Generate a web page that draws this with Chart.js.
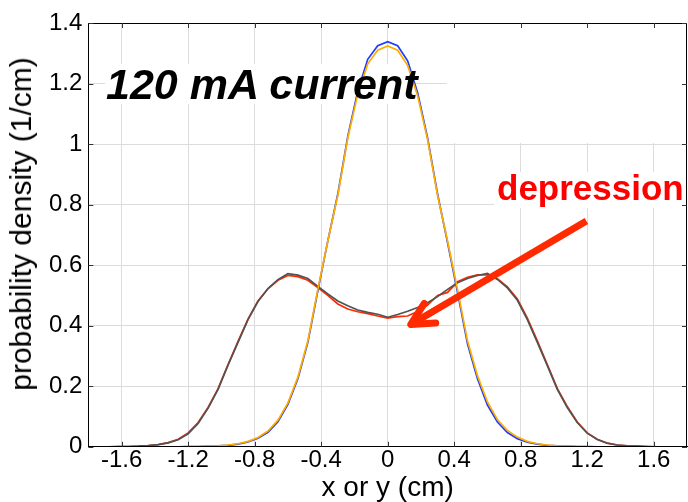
<!DOCTYPE html>
<html>
<head>
<meta charset="utf-8">
<script src="https://cdn.jsdelivr.net/npm/chart.js@4.4.1/dist/chart.umd.min.js"></script>
<style>
    body { margin: 0; background: #fff; }
    #wrap { position: relative; width: 688px; height: 502px; }
    .note { position: absolute; white-space: nowrap; font-family: "Liberation Sans", Arial, sans-serif; line-height: 1; }
    #current { left: 106px; top: 63px; font-size: 43px; font-weight: bold; font-style: italic; color: #000; }
    #depression { left: 497px; top: 170px; font-size: 35px; font-weight: bold; color: #ff0000; }
    #ytitle { left: 21px; top: 224px; font-size: 30px; color: #000; transform: translate(-50%, -50%) rotate(-90deg); }
</style>
</head>
<body>
<div id="wrap">
    <canvas id="chart" width="688" height="502"></canvas>
    <div class="note" id="ytitle">probability density (1/cm)</div>
    <div class="note" id="current">120 mA current</div>
    <div class="note" id="depression">depression</div>
</div>
<script>
// sample positions (cm)
const xs = [-1.68, -1.62, -1.56, -1.50, -1.44, -1.38, -1.32, -1.26, -1.20, -1.14, -1.08, -1.02, -0.96, -0.90, -0.84,
    -0.78, -0.72, -0.66, -0.60, -0.54, -0.48, -0.42, -0.36, -0.30, -0.24, -0.18, -0.12, -0.06, 0,
    0.06, 0.12, 0.18, 0.24, 0.30, 0.36, 0.42, 0.48, 0.54, 0.60, 0.66, 0.72, 0.78, 0.84, 0.90,
    0.96, 1.02, 1.08, 1.14, 1.20, 1.26, 1.32, 1.38, 1.44, 1.50, 1.56, 1.62, 1.68];

// narrow profile
const blueSeries = [0, 0, 0, 0, 0, 0, 0, 0, 0.001,
    0.001, 0.002, 0.003, 0.005, 0.009, 0.016, 0.028, 0.048, 0.083, 0.14, 0.225, 0.345, 0.515, 0.68, 0.835, 1.025, 1.175, 1.28, 1.325,
    1.338,
    1.325, 1.275, 1.17, 1.02, 0.835, 0.675, 0.51, 0.34, 0.225, 0.138, 0.082, 0.047, 0.027, 0.015, 0.009, 0.005, 0.003, 0.002, 0.001,
    0.001, 0, 0, 0, 0, 0, 0, 0, 0];
const orangeSeries = [0, 0, 0, 0, 0, 0, 0, 0, 0.001,
    0.001, 0.002, 0.003, 0.006, 0.010, 0.018, 0.031, 0.052, 0.088, 0.145, 0.23, 0.35, 0.52, 0.68, 0.83, 1.02, 1.165, 1.265, 1.31,
    1.324,
    1.31, 1.26, 1.16, 1.015, 0.83, 0.68, 0.52, 0.35, 0.235, 0.148, 0.09, 0.054, 0.032, 0.018, 0.010, 0.006, 0.003, 0.002, 0.001,
    0.001, 0, 0, 0, 0, 0, 0, 0, 0];

// hollow profile
const redSeries = [0, 0.001, 0.001, 0.002, 0.004, 0.007, 0.014, 0.025, 0.046,
    0.08, 0.13, 0.192, 0.272, 0.348, 0.422, 0.482, 0.522, 0.55, 0.566, 0.562, 0.55, 0.526, 0.5, 0.472, 0.455, 0.446, 0.44, 0.432,
    0.425,
    0.43, 0.432, 0.447, 0.468, 0.5, 0.51, 0.545, 0.56, 0.568, 0.568, 0.555, 0.528, 0.488, 0.425, 0.35, 0.272, 0.193, 0.133, 0.082,
    0.046, 0.025, 0.012, 0.006, 0.003, 0.002, 0.001, 0, 0];
const graySeries = [0, 0.001, 0.001, 0.002, 0.004, 0.007, 0.013, 0.023, 0.043,
    0.077, 0.128, 0.19, 0.27, 0.345, 0.42, 0.48, 0.523, 0.552, 0.572, 0.567, 0.556, 0.53, 0.505, 0.482, 0.466, 0.452, 0.444, 0.438,
    0.428,
    0.437, 0.448, 0.46, 0.476, 0.496, 0.52, 0.542, 0.556, 0.566, 0.573, 0.553, 0.525, 0.484, 0.42, 0.345, 0.268, 0.19, 0.13, 0.08,
    0.045, 0.024, 0.012, 0.006, 0.003, 0.002, 0.001, 0, 0];

const xTickValues = [-1.6, -1.2, -0.8, -0.4, 0, 0.4, 0.8, 1.2, 1.6];
const yTickValues = [0, 0.2, 0.4, 0.6, 0.8, 1, 1.2, 1.4];

// arrow from label down to the dip, in data units
const arrowFrom = [1.195, 0.746];
const arrowTo = [0.139, 0.404];

const FONT = "'Liberation Sans', Arial, sans-serif";

function series(label, values, color) {
    return {
        label: label,
        data: xs.map((x, i) => ({x: x, y: values[i]})),
        borderColor: color,
        borderWidth: 1.7,
        pointRadius: 0,
        tension: 0,
        fill: false,
    };
}

const framePlugin = {
    id: "frame",
    beforeDatasetsDraw(chart) {
        // white boxes behind the annotations hide the grid
        const ctx = chart.ctx;
        const a = chart.chartArea;
        ctx.save();
        ctx.fillStyle = "#fff";
        ctx.fillRect(105, 64, 309, 40);
        ctx.fillRect(447, a.top + 1, a.right - 448, 142 - a.top);
        ctx.fillRect(494, 172, a.right - 495, 36);
        ctx.restore();
    },
    afterDatasetsDraw(chart) {
        const ctx = chart.ctx;
        const a = chart.chartArea;
        const xs_ = chart.scales.x;
        const ys_ = chart.scales.y;

        // arrow
        const x0 = xs_.getPixelForValue(arrowFrom[0]);
        const y0 = ys_.getPixelForValue(arrowFrom[1]);
        const x1 = xs_.getPixelForValue(arrowTo[0]);
        const y1 = ys_.getPixelForValue(arrowTo[1]);
        const ang = Math.atan2(y0 - y1, x0 - x1);
        ctx.save();
        ctx.strokeStyle = "#ff2a00";
        ctx.lineWidth = 7;
        ctx.lineCap = "butt";
        ctx.beginPath();
        ctx.moveTo(x0, y0);
        ctx.lineTo(x1 + 4 * Math.cos(ang), y1 + 4 * Math.sin(ang));
        ctx.stroke();
        ctx.lineCap = "round";
        ctx.lineJoin = "round";
        ctx.beginPath();
        ctx.moveTo(x1 + 25 * Math.cos(ang - 0.47), y1 + 25 * Math.sin(ang - 0.47));
        ctx.lineTo(x1, y1);
        ctx.lineTo(x1 + 25 * Math.cos(ang + 0.47), y1 + 25 * Math.sin(ang + 0.47));
        ctx.stroke();
        ctx.restore();

        // box frame and inward ticks
        ctx.save();
        ctx.strokeStyle = "#000";
        ctx.lineWidth = 1;
        ctx.strokeRect(Math.round(a.left) + 0.5, Math.round(a.top) + 0.5,
            Math.round(a.right - a.left) - 1, Math.round(a.bottom - a.top) - 1);
        ctx.strokeStyle = "#333";
        ctx.beginPath();
        xTickValues.forEach((v) => {
            const px = Math.round(xs_.getPixelForValue(v)) + 0.5;
            ctx.moveTo(px, a.bottom); ctx.lineTo(px, a.bottom - 5);
            ctx.moveTo(px, a.top); ctx.lineTo(px, a.top + 5);
        });
        yTickValues.forEach((v) => {
            const py = Math.round(ys_.getPixelForValue(v)) + 0.5;
            ctx.moveTo(a.left, py); ctx.lineTo(a.left + 5, py);
            ctx.moveTo(a.right, py); ctx.lineTo(a.right - 5, py);
        });
        ctx.stroke();
        ctx.restore();
    },
};

new Chart(document.getElementById("chart"), {
    type: "line",
    data: {
        datasets: [
            series("orange", orangeSeries, "#ffad00"),
            series("blue", blueSeries, "#1c3cff"),
            series("gray", graySeries, "#525252"),
            series("red", redSeries, "#ff2a00"),
        ],
    },
    options: {
        responsive: false,
        animation: false,
        layout: {padding: {left: 43, right: 1, top: 23, bottom: 0}},
        plugins: {legend: {display: false}, tooltip: {enabled: false}},
        scales: {
            x: {
                type: "linear",
                min: -1.8,
                max: 1.8,
                afterBuildTicks: (scale) => { scale.ticks = xTickValues.map((v) => ({value: v})); },
                ticks: {
                    color: "#000",
                    padding: 4,
                    maxRotation: 0,
                    font: {family: FONT, size: 24, lineHeight: 0.8},
                    callback: (v) => String(Math.round(v * 10) / 10),
                },
                grid: {color: "#dcdcdc", drawTicks: false},
                border: {color: "#000"},
                title: {
                    display: true,
                    text: "x or y (cm)",
                    color: "#000",
                    padding: {top: 0, bottom: 0},
                    font: {family: FONT, size: 28, lineHeight: 1},
                },
            },
            y: {
                min: 0,
                max: 1.4,
                afterBuildTicks: (scale) => { scale.ticks = yTickValues.map((v) => ({value: v})); },
                ticks: {
                    color: "#000",
                    padding: 6,
                    font: {family: FONT, size: 24, lineHeight: 1},
                    callback: (v) => String(Math.round(v * 10) / 10),
                },
                grid: {color: "#dcdcdc", drawTicks: false},
                border: {color: "#000"},
            },
        },
    },
    plugins: [framePlugin],
});
</script>
</body>
</html>
